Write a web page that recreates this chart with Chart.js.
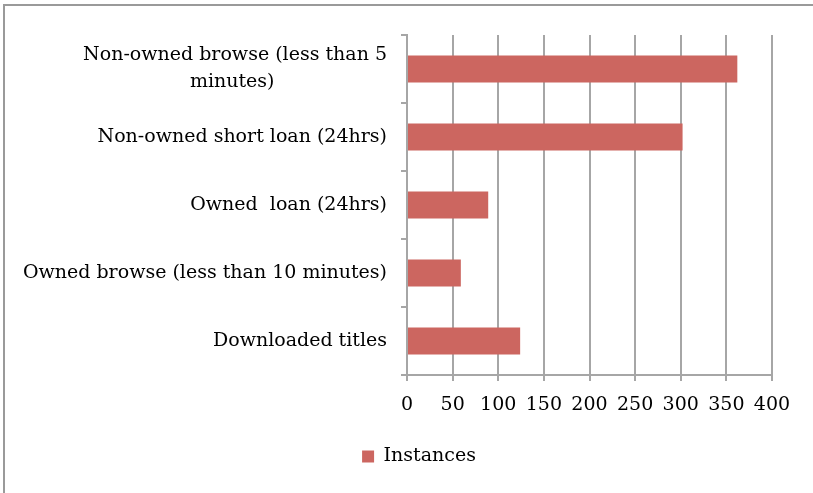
<!DOCTYPE html>
<html>
<head>
<meta charset="utf-8">
<script src="https://cdn.jsdelivr.net/npm/chart.js@4"></script>
<style>
  html, body { margin: 0; padding: 0; background: #fff; overflow: hidden; }
  #wrap { position: relative; width: 813px; height: 493px; }
  #frame { position: absolute; left: 3px; top: 4px; width: 840px; height: 540px;
           border-left: 2px solid #9a9a9a; border-top: 2px solid #9a9a9a; }
  canvas { position: absolute; left: 0; top: 0; }
</style>
</head>
<body>
<div id="wrap">
  <div id="frame"></div>
  <canvas id="chart" width="813" height="493"></canvas>
</div>
<script>
// how the titles were used (instances)
const NB = "\u00a0";
const categories = [
  ["Non-owned browse (less than 5", "minutes)" + NB.repeat(18) + "\u2009"],
  "Non-owned short loan (24hrs)",
  "Owned  loan (24hrs)",
  "Owned browse (less than 10 minutes)",
  "Downloaded titles"
];
const instances = [362, 302, 89, 59, 124];
const xTicks = [0, 50, 100, 150, 200, 250, 300, 350, 400];

const gridGrey = "#a6a6a6";
const barRed = "#cc6660";
const serif = "'DejaVu Serif', serif";

Chart.defaults.font.family = serif;
Chart.defaults.color = "#000";

// the legend sits a little right of the canvas centre in the original
const legendShift = {
  id: "legendShift",
  afterLayout(chart) {
    chart.legend.left += 33;
    chart.legend.right += 33;
  }
};

new Chart("chart", {
  type: "bar",
  data: {
    labels: categories,
    datasets: [{
      label: "Instances",
      data: instances,
      backgroundColor: barRed,
      borderWidth: 0,
      categoryPercentage: 1,
      barPercentage: 0.4
    }]
  },
  options: {
    indexAxis: "y",
    responsive: false,
    animation: false,
    layout: { padding: { top: 35, right: 41, left: 0, bottom: 17 } },
    plugins: {
      legend: {
        position: "bottom",
        labels: { boxWidth: 12, boxHeight: 12, padding: 10, font: { size: 19 } }
      },
      tooltip: { enabled: false }
    },
    scales: {
      x: {
        min: xTicks[0],
        max: xTicks[xTicks.length - 1],
        afterBuildTicks: s => { s.ticks = xTicks.map(v => ({ value: v })); },
        afterFit: s => { s.height = 62; },
        grid: { color: gridGrey, lineWidth: 2, tickLength: 6 },
        border: { color: gridGrey, width: 2 },
        ticks: { font: { size: 19 }, padding: 13, maxRotation: 0 }
      },
      y: {
        afterFit: s => { s.width = 407; },
        grid: { drawOnChartArea: false, color: gridGrey, lineWidth: 2, tickLength: 6, offset: true },
        border: { color: gridGrey, width: 2 },
        ticks: { font: { size: 19, lineHeight: 1.42 }, padding: 14 }
      }
    }
  },
  plugins: [legendShift]
});
</script>
</body>
</html>
